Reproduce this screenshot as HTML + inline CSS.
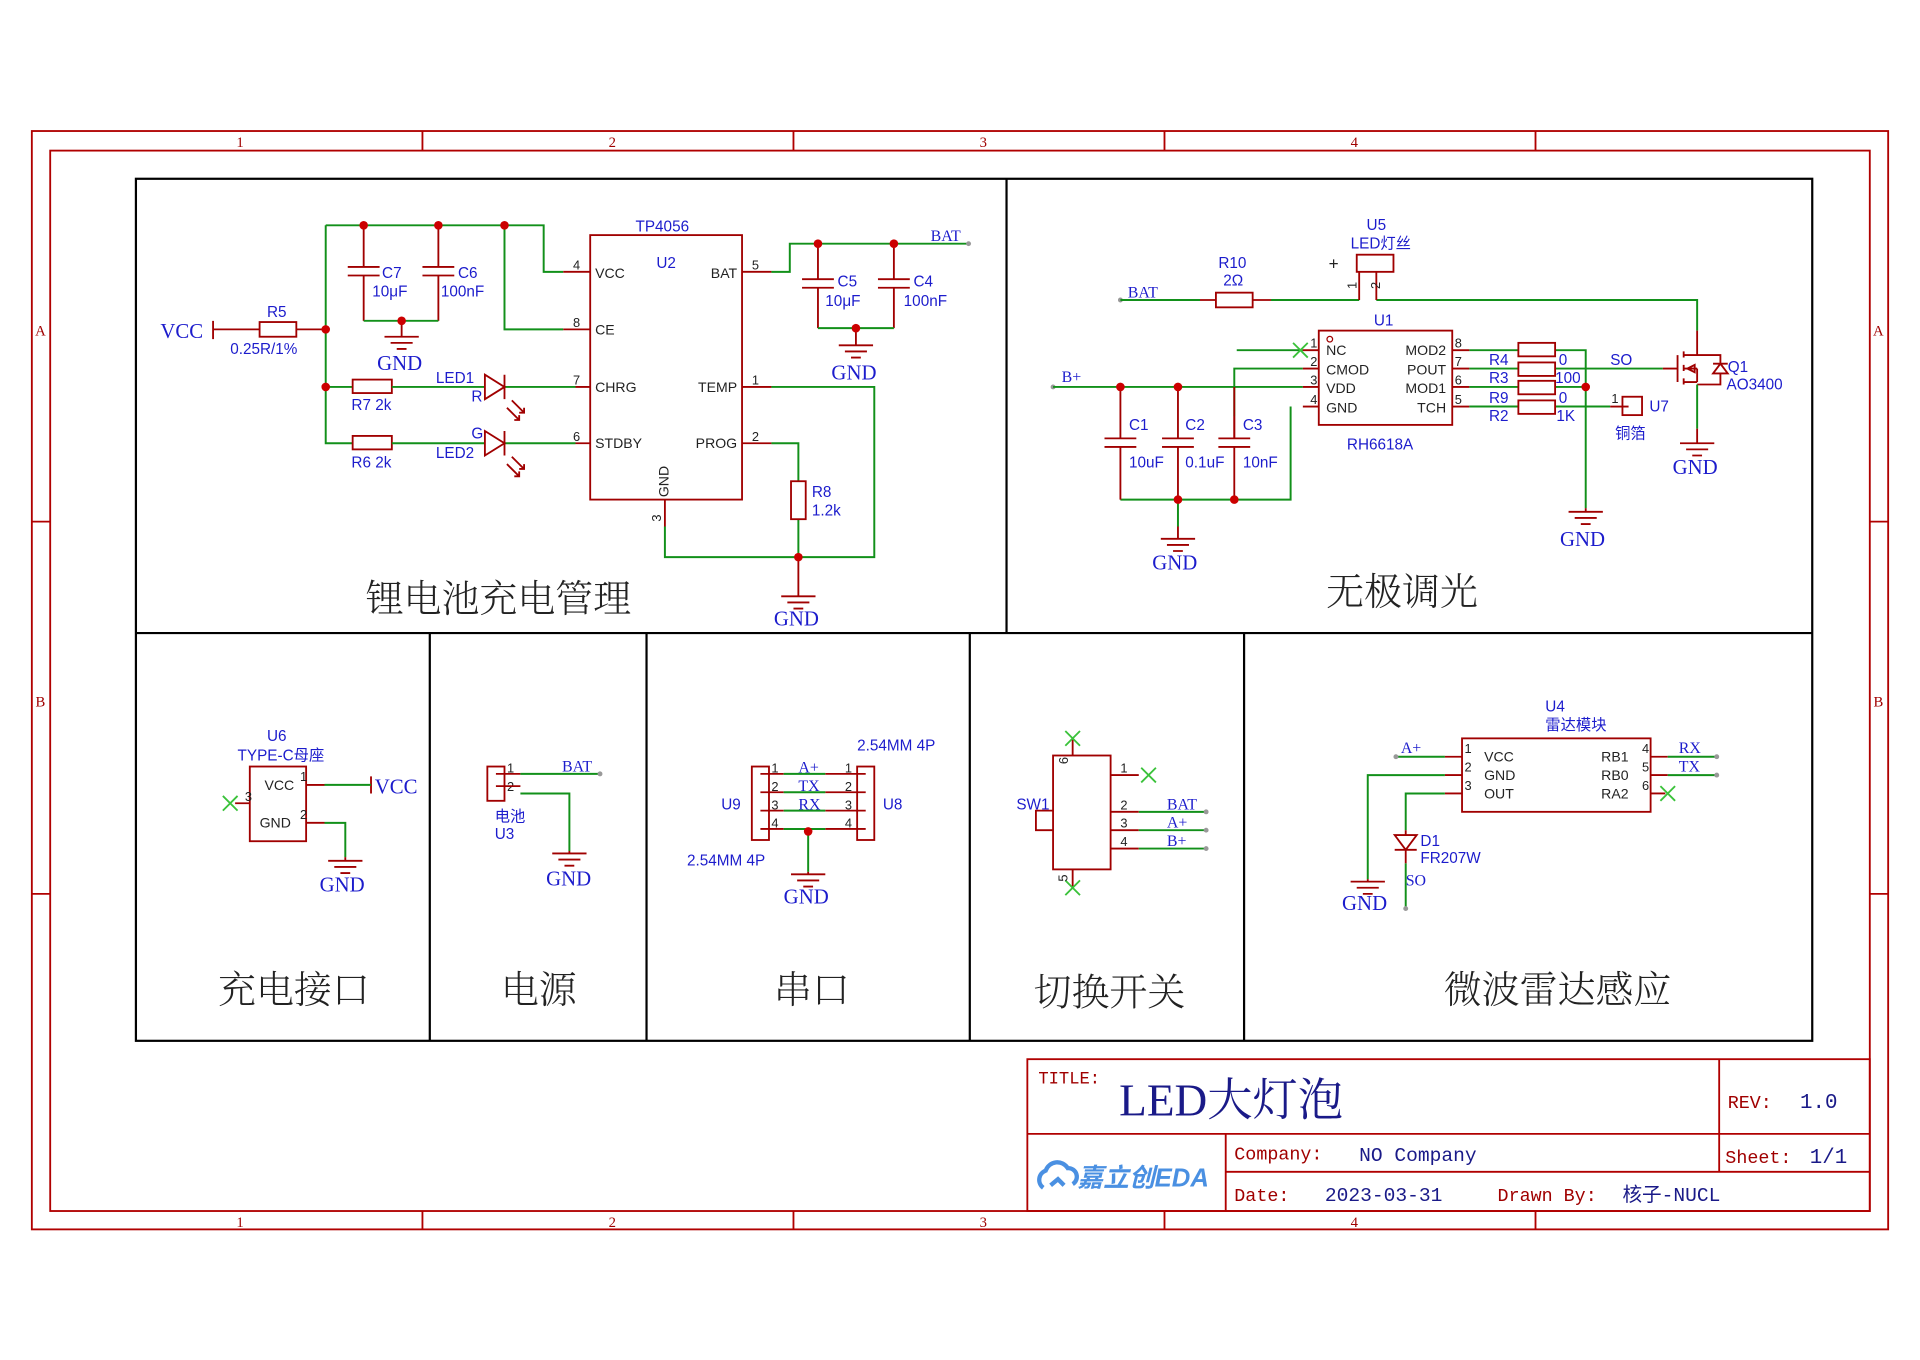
<!DOCTYPE html>
<html><head><meta charset="utf-8">
<style>
html,body{margin:0;padding:0;background:#fff;width:1920px;height:1360px;overflow:hidden}
svg{display:block}
.w{stroke:#12901a;stroke-width:1.6;fill:none}
.r{stroke:#a00000;stroke-width:1.5;fill:none}
.b{stroke:#000;stroke-width:1.8;fill:none}
.f{stroke:#b00000;stroke-width:1.5;fill:none}
.x{stroke:#3ac23a;stroke-width:1.5}
text{font-family:"Liberation Sans","Noto Sans CJK SC",sans-serif;fill:#1c1ccc;font-size:12.5px}
.s{font-family:"Liberation Serif","Noto Serif CJK SC",serif}
.g{font-family:"Liberation Serif",serif;font-size:17px;fill:#1c1ccc}
.k{fill:#222;font-size:11.5px}
.p{fill:#222;font-size:10.5px}
.t{font-family:"Noto Serif CJK SC","Noto Sans CJK SC",serif;fill:#222;font-size:31px;font-weight:300}
.m{font-family:"Liberation Mono","Noto Sans CJK SC",monospace;font-size:15px}
.red{fill:#a00000}
.nb{fill:#1a1a88}
.pl{font-family:"Liberation Serif",serif;font-size:13px}
</style></head><body>
<svg width="1920" height="1360" viewBox="0 0 1568 1110.67" preserveAspectRatio="none" xmlns="http://www.w3.org/2000/svg">
<!-- frame -->
<rect x="26" y="107" width="1516" height="897" class="f"/>
<rect x="41" y="123" width="1486" height="866" class="f"/>
<path class="f" d="M345 107V123M648 107V123M951 107V123M1254 107V123M345 989V1004M648 989V1004M951 989V1004M1254 989V1004M26 426H41M26 730H41M1527 426H1542M1527 730H1542"/>
<g text-anchor="middle">
<text x="196" y="120" class="s red" style="font-size:12px">1</text><text x="500" y="120" class="s red" style="font-size:12px">2</text><text x="803" y="120" class="s red" style="font-size:12px">3</text><text x="1106" y="120" class="s red" style="font-size:12px">4</text>
<text x="196" y="1002" class="s red" style="font-size:12px">1</text><text x="500" y="1002" class="s red" style="font-size:12px">2</text><text x="803" y="1002" class="s red" style="font-size:12px">3</text><text x="1106" y="1002" class="s red" style="font-size:12px">4</text>
<text x="33" y="274" class="s red" style="font-size:12px">A</text><text x="33" y="577" class="s red" style="font-size:12px">B</text>
<text x="1534" y="274" class="s red" style="font-size:12px">A</text><text x="1534" y="577" class="s red" style="font-size:12px">B</text>
</g>
<!-- panels -->
<rect x="111" y="146" width="1369" height="704" class="b"/>
<path class="b" d="M111 517H1480M822 146V517M351 517V850M528 517V850M792 517V850M1016 517V850"/>

<!-- ===== charge panel ===== -->
<text x="131" y="276" class="s" style="font-size:17px">VCC</text>
<path class="r" d="M174 262V277M174 269H212M242 269H266"/>
<rect x="212" y="263" width="30" height="12" class="r"/>
<text x="218" y="259">R5</text><text x="188" y="289">0.25R/1%</text>
<path class="w" d="M266 184V362H288M266 316H288M266 184H444V222H460M412 184V269H460"/>
<path class="r" d="M460 222H482M460 269H482"/>
<path class="r" d="M297 184V218M284 218H310M284 225H310M297 225V262M358 184V218M345 218H371M345 225H371M358 225V262"/>
<path class="w" d="M297 262H358"/>
<path class="r" d="M328 262V275M314 275H342M319 280H337M324 285H332"/>
<text x="312" y="227">C7</text><text x="304" y="242">10μF</text>
<text x="374" y="227">C6</text><text x="360" y="242">100nF</text>
<text x="308" y="302" class="g">GND</text>
<rect x="288" y="310" width="32" height="11" class="r"/>
<rect x="288" y="356" width="32" height="11" class="r"/>
<path class="w" d="M320 316H396M320 362H396M412 316H470M412 362H470"/>
<path class="r" d="M470 316H482M470 362H482M396 306L412 316L396 326ZM412 306V326M396 352L412 362L396 372ZM412 352V372M418 327L428 337M424 337L428 337L428 333M414 333L424 343M420 343L424 343L424 339M418 373L428 383M424 383L428 383L428 379M414 379L424 389M420 389L424 389L424 385"/>
<text x="356" y="313">LED1</text><text x="385" y="328">R</text><text x="287" y="335">R7  2k</text>
<text x="385" y="358">G</text><text x="356" y="374">LED2</text><text x="287" y="382">R6  2k</text>
<rect x="482" y="192" width="124" height="216" class="r"/>
<text x="519" y="189">TP4056</text><text x="536" y="219">U2</text>
<text x="486" y="227" class="k">VCC</text><text x="486" y="273" class="k">CE</text><text x="486" y="320" class="k">CHRG</text><text x="486" y="366" class="k">STDBY</text>
<text x="602" y="227" class="k" text-anchor="end">BAT</text><text x="602" y="320" class="k" text-anchor="end">TEMP</text><text x="602" y="366" class="k" text-anchor="end">PROG</text>
<text x="546" y="406" class="k" transform="rotate(-90 546 406)">GND</text>
<text x="468" y="220" class="p">4</text><text x="468" y="267" class="p">8</text><text x="468" y="314" class="p">7</text><text x="468" y="360" class="p">6</text>
<text x="614" y="220" class="p">5</text><text x="614" y="314" class="p">1</text><text x="614" y="360" class="p">2</text>
<text x="540" y="426" class="p" transform="rotate(-90 540 426)">3</text>
<path class="r" d="M606 222H630M606 316H630M606 362H630M543 408V430"/>
<path class="w" d="M630 222H645V199H790M630 316H714V455H543V430M630 362H652V393M652 424V455"/>
<rect x="646" y="393" width="12" height="31" class="r"/>
<text x="663" y="406">R8</text><text x="663" y="421">1.2k</text>
<path class="r" d="M652 455V487M638 487H666M643 492H661M648 497H656"/>
<text x="632" y="511" class="g">GND</text>
<text x="760" y="197" class="pl">BAT</text>
<circle cx="791" cy="199" r="2" fill="#999"/>
<path class="r" d="M668 199V228M655 228H681M655 235H681M668 235V268M730 199V228M717 228H743M717 235H743M730 235V268"/>
<path class="w" d="M668 268H730"/>
<path class="r" d="M699 268V282M685 282H713M690 287H708M695 292H703"/>
<text x="684" y="234">C5</text><text x="674" y="250">10μF</text><text x="746" y="234">C4</text><text x="738" y="250">100nF</text>
<text x="679" y="310" class="g">GND</text>
<g fill="#cc0000"><circle cx="266" cy="269" r="3.5"/><circle cx="266" cy="316" r="3.5"/><circle cx="297" cy="184" r="3.5"/><circle cx="358" cy="184" r="3.5"/><circle cx="412" cy="184" r="3.5"/><circle cx="328" cy="262" r="3.5"/><circle cx="668" cy="199" r="3.5"/><circle cx="730" cy="199" r="3.5"/><circle cx="699" cy="268" r="3.5"/><circle cx="652" cy="455" r="3.5"/></g>
<text x="407" y="500" class="t" text-anchor="middle">锂电池充电管理</text>

<!-- ===== dimming panel ===== -->
<text x="921" y="243" class="pl">BAT</text>
<circle cx="915" cy="245" r="2" fill="#999"/>
<path class="w" d="M915 245H980M1038 245H1110M1124 245H1386V270"/>
<path class="r" d="M980 245H993M1023 245H1038M1110 245V222M1124 245V222M1386 270V285"/>
<rect x="993" y="239" width="30" height="12" class="r"/>
<text x="995" y="219">R10</text><text x="999" y="233">2Ω</text>
<rect x="1108" y="208" width="30" height="14" class="r"/>
<text x="1116" y="188">U5</text><text x="1103" y="203">LED灯丝</text>
<text x="1085" y="220" class="k" style="font-size:14px">+</text>
<text x="1108" y="236" class="p" transform="rotate(-90 1108 236)">1</text>
<text x="1127" y="236" class="p" transform="rotate(-90 1127 236)">2</text>
<text x="867" y="312" class="pl">B+</text>
<circle cx="860" cy="316" r="2" fill="#999"/>
<path class="w" d="M860 316H1064M1008 340V301H1064M1054 332V408H915M962 408V430M1010 286H1064"/>
<path class="r" d="M1064 286H1077M1064 301H1077M1064 316H1077M1064 332H1077"/>
<path class="x" d="M1056 280L1068 292M1056 292L1068 280"/>
<path class="r" d="M915 316V358M902 358H928M902 365H928M915 365V408M962 316V358M949 358H975M949 365H975M962 365V408M1008 316V358"/>
<path class="r" d="M1008 340V358M995 358H1021M995 365H1021M1008 365V408M962 430V440M948 440H976M953 445H971M958 450H966"/>
<text x="922" y="351">C1</text><text x="922" y="382">10uF</text><text x="968" y="351">C2</text><text x="968" y="382">0.1uF</text><text x="1015" y="351">C3</text><text x="1015" y="382">10nF</text>
<text x="941" y="465" class="g">GND</text>
<rect x="1077" y="270" width="109" height="77" class="r"/>
<circle cx="1086" cy="277" r="2.3" fill="none" stroke="#a00000"/>
<text x="1122" y="266">U1</text><text x="1100" y="367">RH6618A</text>
<text x="1083" y="290" class="k">NC</text><text x="1083" y="306" class="k">CMOD</text><text x="1083" y="321" class="k">VDD</text><text x="1083" y="337" class="k">GND</text>
<text x="1181" y="290" class="k" text-anchor="end">MOD2</text><text x="1181" y="306" class="k" text-anchor="end">POUT</text><text x="1181" y="321" class="k" text-anchor="end">MOD1</text><text x="1181" y="337" class="k" text-anchor="end">TCH</text>
<text x="1070" y="284" class="p">1</text><text x="1070" y="299" class="p">2</text><text x="1070" y="314" class="p">3</text><text x="1070" y="330" class="p">4</text>
<text x="1188" y="284" class="p">8</text><text x="1188" y="299" class="p">7</text><text x="1188" y="314" class="p">6</text><text x="1188" y="330" class="p">5</text>
<path class="r" d="M1186 286H1200M1186 301H1200M1186 316H1200M1186 332H1200"/>
<path class="w" d="M1200 286H1240M1200 301H1240M1200 316H1240M1200 332H1240M1270 286H1295V415M1270 316H1295M1270 301H1358M1270 332H1315"/>
<g class="r"><rect x="1240" y="280" width="30" height="11"/><rect x="1240" y="296" width="30" height="11"/><rect x="1240" y="311" width="30" height="11"/><rect x="1240" y="327" width="30" height="11"/></g>
<text x="1216" y="298">R4</text><text x="1273" y="298">0</text><text x="1216" y="313">R3</text><text x="1270" y="313">100</text><text x="1216" y="329">R9</text><text x="1273" y="329">0</text><text x="1216" y="344">R2</text><text x="1271" y="344">1K</text>
<text x="1315" y="298">SO</text>
<path class="r" d="M1295 415V418M1281 418H1309M1286 423H1304M1291 428H1299M1315 332H1330"/>
<text x="1274" y="446" class="g">GND</text>
<rect x="1325" y="324" width="16" height="15" class="r"/>
<text x="1316" y="329" class="p">1</text><text x="1347" y="336">U7</text><text x="1319" y="358">铜箔</text>
<path class="r" d="M1358 301H1370M1370 290V312M1375 287V292M1375 298V303M1375 309V314M1375 290H1386M1375 312H1386M1386 301H1375M1378 301L1384 298V304ZM1386 312V301M1386 285V290M1386 290H1405V297M1405 305V314H1386M1399 305L1405 297L1411 305ZM1399 297H1411"/>
<path class="w" d="M1386 314V350"/>
<path class="r" d="M1386 350V362M1372 362H1400M1377 367H1395M1382 372H1390"/>
<text x="1411" y="304">Q1</text><text x="1410" y="318">AO3400</text>
<text x="1366" y="387" class="g">GND</text>
<g fill="#cc0000"><circle cx="915" cy="316" r="3.5"/><circle cx="962" cy="316" r="3.5"/><circle cx="962" cy="408" r="3.5"/><circle cx="1008" cy="408" r="3.5"/><circle cx="1295" cy="316" r="3.5"/></g>
<text x="1145" y="494" class="t" text-anchor="middle">无极调光</text>

<!-- ===== charge port ===== -->
<text x="218" y="605">U6</text><text x="194" y="621">TYPE-C母座</text>
<rect x="204" y="626" width="46" height="61" class="r"/>
<text x="216" y="645" class="k">VCC</text><text x="212" y="676" class="k">GND</text>
<text x="245" y="638" class="p">1</text><text x="245" y="669" class="p">2</text><text x="200" y="654" class="p">3</text>
<path class="r" d="M250 641H265M250 672H265M204 656H192M303 634V648"/>
<path class="w" d="M265 641H303M265 672H282V700"/>
<path class="r" d="M282 700V703M268 703H296M273 708H291M278 713H286"/>
<path class="x" d="M182 650L194 662M182 662L194 650"/>
<text x="306" y="648" class="s" style="font-size:17px">VCC</text>
<text x="261" y="728" class="g">GND</text>
<text x="240" y="819" class="t" text-anchor="middle">充电接口</text>

<!-- ===== power ===== -->
<rect x="398" y="626" width="14" height="28" class="r"/>
<text x="414" y="631" class="p">1</text><text x="414" y="646" class="p">2</text>
<path class="r" d="M405 632H425M405 642H425"/>
<path class="w" d="M425 632H490M425 648H465V695"/>
<path class="r" d="M465 695V697M451 697H479M456 702H474M461 707H469"/>
<circle cx="490" cy="632" r="2" fill="#999"/>
<text x="459" y="630" class="pl">BAT</text>
<text x="404" y="671">电池</text><text x="404" y="685">U3</text>
<text x="446" y="723" class="g">GND</text>
<text x="440" y="819" class="t" text-anchor="middle">电源</text>

<!-- ===== uart ===== -->
<rect x="614" y="626" width="14" height="60" class="r"/>
<rect x="700" y="626" width="14" height="60" class="r"/>
<path class="r" d="M621 632H640M621 647H640M621 662H640M621 677H640M674 632H707M674 647H707M674 662H707M674 677H707"/>
<path class="w" d="M640 632H674M640 647H674M640 662H674M640 677H674M660 677V712"/>
<text x="630" y="631" class="p">1</text><text x="630" y="646" class="p">2</text><text x="630" y="661" class="p">3</text><text x="630" y="676" class="p">4</text>
<text x="690" y="631" class="p">1</text><text x="690" y="646" class="p">2</text><text x="690" y="661" class="p">3</text><text x="690" y="676" class="p">4</text>
<text x="652" y="631" class="pl">A+</text><text x="652" y="646" class="pl">TX</text><text x="652" y="661" class="pl">RX</text>
<path class="r" d="M660 712V714M646 714H674M651 719H669M656 724H664"/>
<circle cx="660" cy="679" r="3.5" fill="#cc0000"/>
<text x="589" y="661">U9</text><text x="721" y="661">U8</text>
<text x="700" y="613">2.54MM 4P</text><text x="561" y="707">2.54MM 4P</text>
<text x="640" y="738" class="g">GND</text>
<text x="663" y="819" class="t" text-anchor="middle">串口</text>

<!-- ===== switch ===== -->
<rect x="860" y="617" width="47" height="93" class="r"/>
<path class="r" d="M860 662H846V678H860M876 617V603M876 710V725M907 633H930M907 663H930M907 678H930M907 693H930"/>
<path class="w" d="M930 663H985M930 678H985M930 693H985"/>
<path class="x" d="M870 597L882 609M870 609L882 597M932 627L944 639M932 639L944 627M870 719L882 731M870 731L882 719"/>
<g fill="#999"><circle cx="985" cy="663" r="2"/><circle cx="985" cy="678" r="2"/><circle cx="985" cy="693" r="2"/></g>
<text x="915" y="631" class="p">1</text><text x="915" y="661" class="p">2</text><text x="915" y="676" class="p">3</text><text x="915" y="691" class="p">4</text>
<text x="872" y="624" class="p" transform="rotate(-90 872 624)">6</text><text x="872" y="720" class="p" transform="rotate(-90 872 720)">5</text>
<text x="953" y="661" class="pl">BAT</text><text x="953" y="676" class="pl">A+</text><text x="953" y="691" class="pl">B+</text>
<text x="830" y="661">SW1</text>
<text x="906" y="821" class="t" text-anchor="middle">切换开关</text>

<!-- ===== radar ===== -->
<text x="1262" y="581">U4</text><text x="1262" y="596">雷达模块</text>
<rect x="1194" y="603" width="154" height="60" class="r"/>
<text x="1212" y="622" class="k">VCC</text><text x="1212" y="637" class="k">GND</text><text x="1212" y="652" class="k">OUT</text>
<text x="1330" y="622" class="k" text-anchor="end">RB1</text><text x="1330" y="637" class="k" text-anchor="end">RB0</text><text x="1330" y="652" class="k" text-anchor="end">RA2</text>
<text x="1196" y="615" class="p">1</text><text x="1196" y="630" class="p">2</text><text x="1196" y="645" class="p">3</text>
<text x="1341" y="615" class="p">4</text><text x="1341" y="630" class="p">5</text><text x="1341" y="645" class="p">6</text>
<path class="r" d="M1194 618H1180M1194 633H1180M1194 648H1180M1348 618H1362M1348 633H1362M1348 648H1360"/>
<path class="w" d="M1180 618H1140M1180 633H1117V718M1180 648H1148V678M1362 618H1402M1362 633H1402M1148 705V742"/>
<path class="x" d="M1356 642L1368 654M1356 654L1368 642"/>
<g fill="#999"><circle cx="1140" cy="618" r="2"/><circle cx="1402" cy="618" r="2"/><circle cx="1402" cy="633" r="2"/><circle cx="1148" cy="742" r="2"/></g>
<text x="1144" y="615" class="pl">A+</text><text x="1371" y="615" class="pl">RX</text><text x="1371" y="630" class="pl">TX</text>
<path class="r" d="M1148 678V682M1139 682H1157L1148 694ZM1139 694H1157M1148 694V705M1117 718V720M1103 720H1131M1108 725H1126M1113 730H1121"/>
<text x="1160" y="691">D1</text><text x="1160" y="705">FR207W</text>
<text x="1148" y="723" class="pl">SO</text>
<text x="1096" y="743" class="g">GND</text>
<text x="1272" y="819" class="t" text-anchor="middle">微波雷达感应</text>

<!-- ===== title block ===== -->
<rect x="839" y="865" width="688" height="124" class="f"/>
<path class="f" d="M839 926H1527M1001 957H1527M1001 926V989M1404 865V957"/>
<text x="848" y="885" class="m red" style="font-size:14px">TITLE:</text>
<text x="914" y="911" class="s nb" style="font-size:37px">LED大灯泡</text>
<text x="1411" y="905" class="m red">REV:</text><text x="1470" y="905" class="m nb" style="font-size:17px">1.0</text>
<text x="1008" y="947" class="m red">Company:</text><text x="1110" y="948" class="m nb" style="font-size:16px">NO Company</text>
<text x="1409" y="950" class="m red">Sheet:</text><text x="1478" y="950" class="m nb" style="font-size:17px">1/1</text>
<text x="1008" y="981" class="m red">Date:</text><text x="1082" y="981" class="m nb" style="font-size:16px">2023-03-31</text>
<text x="1223" y="981" class="m red">Drawn By:</text><text x="1325" y="981" class="m nb" style="font-size:16px">核子-NUCL</text>
<g stroke="#4a90e2" stroke-width="3.5" fill="none"><path d="M852 970a8 8 0 0 1 2-14a10 10 0 0 1 18 -2a7 7 0 0 1 4 13"/><path d="M858 968l6 -5l5 5"/></g>
<text x="880" y="969" style="fill:#4a90e2;font-weight:bold;font-style:italic;font-size:21px">嘉立创EDA</text>
</svg>
</body></html>
